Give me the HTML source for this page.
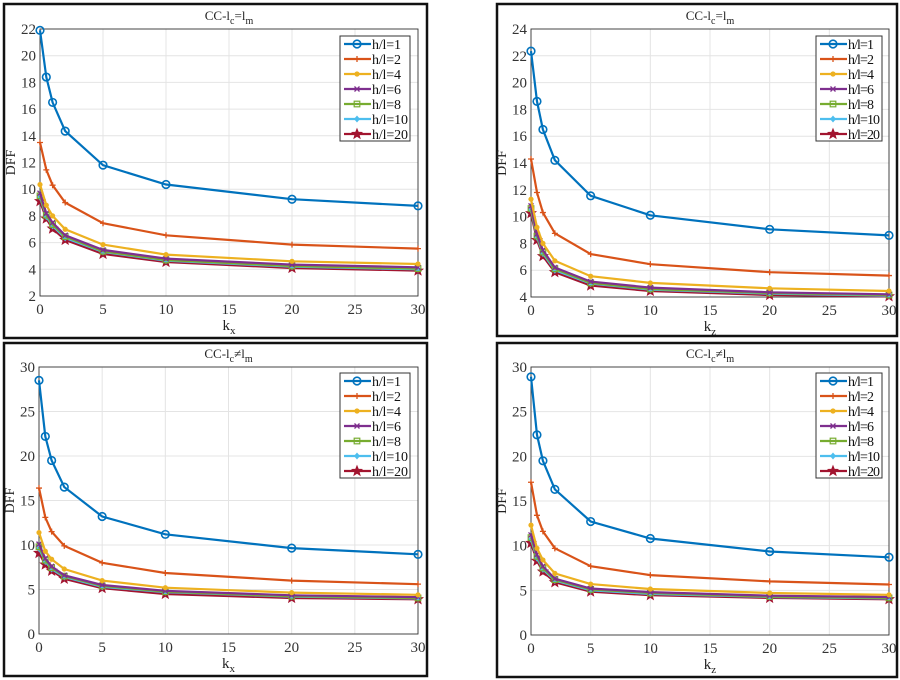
<!DOCTYPE html>
<html><head><meta charset="utf-8"><style>
body{margin:0;background:#fff;}
svg{display:block;font-family:"Liberation Serif",serif;}
</style></head><body>
<svg id="s" width="900" height="680" xmlns="http://www.w3.org/2000/svg"></svg>
<script>
const X=[0,0.5,1,2,5,10,20,30];
const C=["#0072BD","#D95319","#EDB120","#7E2F8E","#77AC30","#4DBEEE","#A2142F"];
const L=["h/l=1","h/l=2","h/l=4","h/l=6","h/l=8","h/l=10","h/l=20"];
const P=[
{b:[4,4,423,334],p:[40,29,418,296],y:[2,22,2],t:"=",xl:"x",lg:[340,36],d:[
[21.9,18.4,16.5,14.35,11.8,10.35,9.25,8.75],[13.5,11.45,10.3,9.0,7.45,6.55,5.85,5.55],
[10.35,8.8,8.0,7.0,5.85,5.1,4.6,4.4],[9.7,8.2,7.5,6.55,5.45,4.8,4.35,4.15],
[9.5,8.05,7.35,6.45,5.35,4.7,4.25,4.05],[9.4,7.95,7.25,6.35,5.3,4.65,4.2,4.0],
[9.1,7.8,7.05,6.2,5.15,4.55,4.1,3.9]]},
{b:[497,4,400,332],p:[531,29,889,297],y:[4,24,2],t:"=",xl:"z",lg:[816,36],d:[
[22.35,18.6,16.5,14.2,11.55,10.1,9.05,8.6],[14.3,11.8,10.3,8.75,7.2,6.45,5.85,5.6],
[11.3,9.2,8.0,6.7,5.55,5.05,4.65,4.45],[10.8,8.7,7.5,6.2,5.15,4.7,4.35,4.2],
[10.6,8.55,7.35,6.1,5.05,4.6,4.3,4.15],[10.5,8.45,7.25,6.0,5.0,4.55,4.25,4.1],
[10.25,8.25,7.05,5.85,4.85,4.45,4.15,4.05]]},
{b:[4,343,423,333],p:[39,367,418,634],y:[0,30,5],t:"≠",xl:"x",lg:[340,373],d:[
[28.5,22.2,19.5,16.5,13.2,11.2,9.65,8.95],[16.4,13.1,11.5,9.9,8.0,6.85,6.0,5.6],
[11.4,9.3,8.4,7.3,6.0,5.2,4.65,4.4],[10.1,8.5,7.6,6.6,5.5,4.85,4.35,4.15],
[9.8,8.3,7.45,6.5,5.4,4.75,4.25,4.05],[9.6,8.15,7.3,6.4,5.3,4.7,4.2,4.0],
[9.1,7.8,7.1,6.2,5.15,4.5,4.05,3.9]]},
{b:[497,343,400,334],p:[531,367,889,635],y:[0,30,5],t:"≠",xl:"z",lg:[816,373],d:[
[28.9,22.4,19.5,16.3,12.7,10.8,9.35,8.7],[17.1,13.4,11.6,9.7,7.7,6.7,6.0,5.65],
[12.3,9.7,8.4,6.9,5.7,5.15,4.7,4.5],[11.2,9.0,7.7,6.3,5.2,4.8,4.4,4.25],
[10.9,8.8,7.5,6.2,5.1,4.7,4.3,4.15],[10.7,8.6,7.35,6.1,5.0,4.6,4.25,4.1],
[10.3,8.3,7.1,5.9,4.85,4.45,4.15,4.0]]}];
function mk(i,x,y,c){
 switch(i){
 case 0:return `<circle cx="${x}" cy="${y}" r="3.8" fill="none" stroke="${c}" stroke-width="1.6"/>`;
 case 1:return `<path d="M${x-3} ${y}h6M${x} ${y-3}v6" stroke="${c}" stroke-width="1.3"/>`;
 case 2:return `<circle cx="${x}" cy="${y}" r="2.6" fill="${c}"/>`;
 case 3:return `<path d="M${x-2.5} ${y-2.5}l5 5M${x+2.5} ${y-2.5}l-5 5" stroke="${c}" stroke-width="1.3"/>`;
 case 4:return `<rect x="${x-2.8}" y="${y-2.8}" width="5.6" height="5.6" fill="none" stroke="${c}" stroke-width="1.2"/>`;
 case 5:return `<path d="M${x} ${y-3.5}l3 3.5l-3 3.5l-3-3.5z" fill="${c}"/>`;
 case 6:{let s="";for(let k=0;k<10;k++){let a=-Math.PI/2+k*Math.PI/5,r=k%2?2.3:5.4;s+=(k?"L":"M")+(x+r*Math.cos(a)).toFixed(1)+" "+(y+r*Math.sin(a)).toFixed(1);}return `<path d="${s}Z" fill="${c}" stroke="${c}" stroke-width="0.7"/>`;}
 }}
let h="";
for(const q of P){
 const [x0,y0,x1,y1]=q.p,[ya,yb,ys]=q.y;
 const sx=v=>x0+(x1-x0)*v/30, sy=v=>y1-(y1-y0)*(v-ya)/(yb-ya);
 h+=`<rect x="${q.b[0]}" y="${q.b[1]}" width="${q.b[2]}" height="${q.b[3]}" fill="#fff" stroke="#111" stroke-width="2.5"/>`;
 for(let v=0;v<=30;v+=5){let X=sx(v);h+=`<line x1="${X}" y1="${y0}" x2="${X}" y2="${y1}" stroke="#e4e4e4"/>`;
  h+=`<text x="${X}" y="${y1+18}" font-size="15" text-anchor="middle" fill="#333">${v}</text>`;}
 for(let v=ya;v<=yb;v+=ys){let Y=sy(v);h+=`<line x1="${x0}" y1="${Y}" x2="${x1}" y2="${Y}" stroke="#e4e4e4"/>`;
  h+=`<text x="${x0-4}" y="${Y+5}" font-size="15" text-anchor="end" fill="#333">${v}</text>`;}
 h+=`<rect x="${x0}" y="${y0}" width="${x1-x0}" height="${y1-y0}" fill="none" stroke="#333" stroke-width="0.9"/>`;
 const cx=(x0+x1)/2;
 h+=`<text x="${cx}" y="${y0-9}" font-size="13" text-anchor="middle" fill="#222">CC-l<tspan dy="4" font-size="10">c</tspan><tspan dy="-4">${q.t}l</tspan><tspan dy="4" font-size="10">m</tspan></text>`;
 h+=`<text x="${cx}" y="${y1+34}" font-size="15" text-anchor="middle" fill="#222">k<tspan dy="4" font-size="11">${q.xl}</tspan></text>`;
 h+=`<text transform="translate(${x0-25},${(y0+y1)/2}) rotate(-90)" font-size="14" text-anchor="middle" fill="#222">DFF</text>`;
 for(let i=6;i>=0;i--){
  const pts=q.d[i].map((v,j)=>sx(X[j]).toFixed(1)+","+sy(v).toFixed(1)).join(" ");
  h+=`<polyline points="${pts}" fill="none" stroke="${C[i]}" stroke-width="2.2"/>`;
  q.d[i].forEach((v,j)=>h+=mk(i,sx(X[j]),sy(v),C[i]));
 }
 const [lx,ly]=q.lg;
 h+=`<rect x="${lx}" y="${ly}" width="${lx===340?70:66}" height="105" fill="#fff" stroke="#333" stroke-width="1"/>`;
 for(let i=0;i<7;i++){const Y=ly+8+i*15;
  h+=`<line x1="${lx+4}" y1="${Y}" x2="${lx+31}" y2="${Y}" stroke="${C[i]}" stroke-width="2.2"/>`+mk(i,lx+17,Y,C[i]);
  h+=`<text x="${lx+32}" y="${Y+5}" font-size="14" fill="#111" textLength="${lx===340?(i>4?36:29):(i>4?32:26)}">${L[i]}</text>`;}
}
document.getElementById("s").innerHTML=h;
</script>
</body></html>
